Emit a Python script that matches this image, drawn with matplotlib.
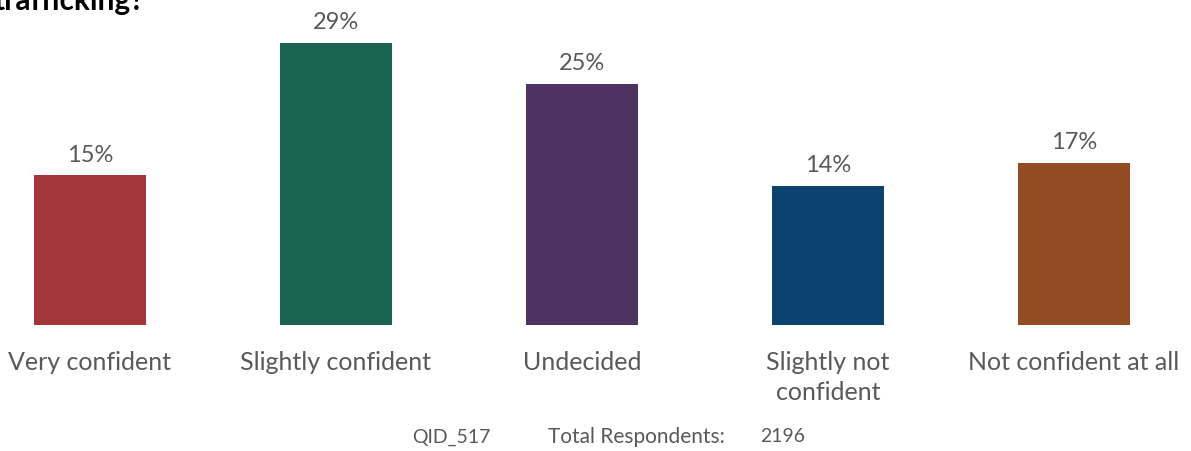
import matplotlib

matplotlib.use("Agg")
import matplotlib.pyplot as plt

plt.rcParams["font.family"] = ["Lato", "DejaVu Sans"]

categories = ["Very confident", "Slightly confident", "Undecided", "Slightly not\nconfident", "Not confident at all"]
values = [15.4, 29.0, 24.8, 14.3, 16.7]
colors = ["#A33638", "#1A6350", "#4E3262", "#0C426F", "#924B22"]
title_text = "trafficking?"
qid = "QID_517"
total_respondents = 2196

W, H = 1191, 451
fig = plt.figure(figsize=(W / 100, H / 100), dpi=100)
ax = fig.add_axes([0, 126 / H, 1, 325 / H])

x = list(range(len(categories)))
ax.bar(x, values, width=0.455, color=colors)
ax.set_xlim(-90 / 246, (W - 90) / 246)
ax.set_ylim(0, 325 / 9.72)
ax.axis("off")

for xi, v in zip(x, values):
    ax.annotate(f"{round(v)}%", (xi, v), xytext=(0, 7), textcoords="offset points",
                ha="center", va="bottom", fontsize=17, color="#595959")

for xi, c in zip(x, categories):
    ax.annotate(c, (xi, 0), xytext=(0, -19), textcoords="offset points",
                ha="center", va="top", fontsize=18, color="#595959", linespacing=1.35)

fig.text(-6 / W, 1 - 10 / H, title_text, ha="left", va="baseline", fontsize=21.5,
         fontweight="bold", color="#000000")

fy = 1 - 437 / H
fig.text(412 / W, fy, qid, ha="left", va="center", fontsize=14, color="#595959")
fig.text(548 / W, fy, "Total Respondents:", ha="left", va="center", fontsize=15, color="#595959")
fig.text(760 / W, fy, str(total_respondents), ha="left", va="center", fontsize=14, color="#595959")

fig.savefig("out.png", dpi=100)
